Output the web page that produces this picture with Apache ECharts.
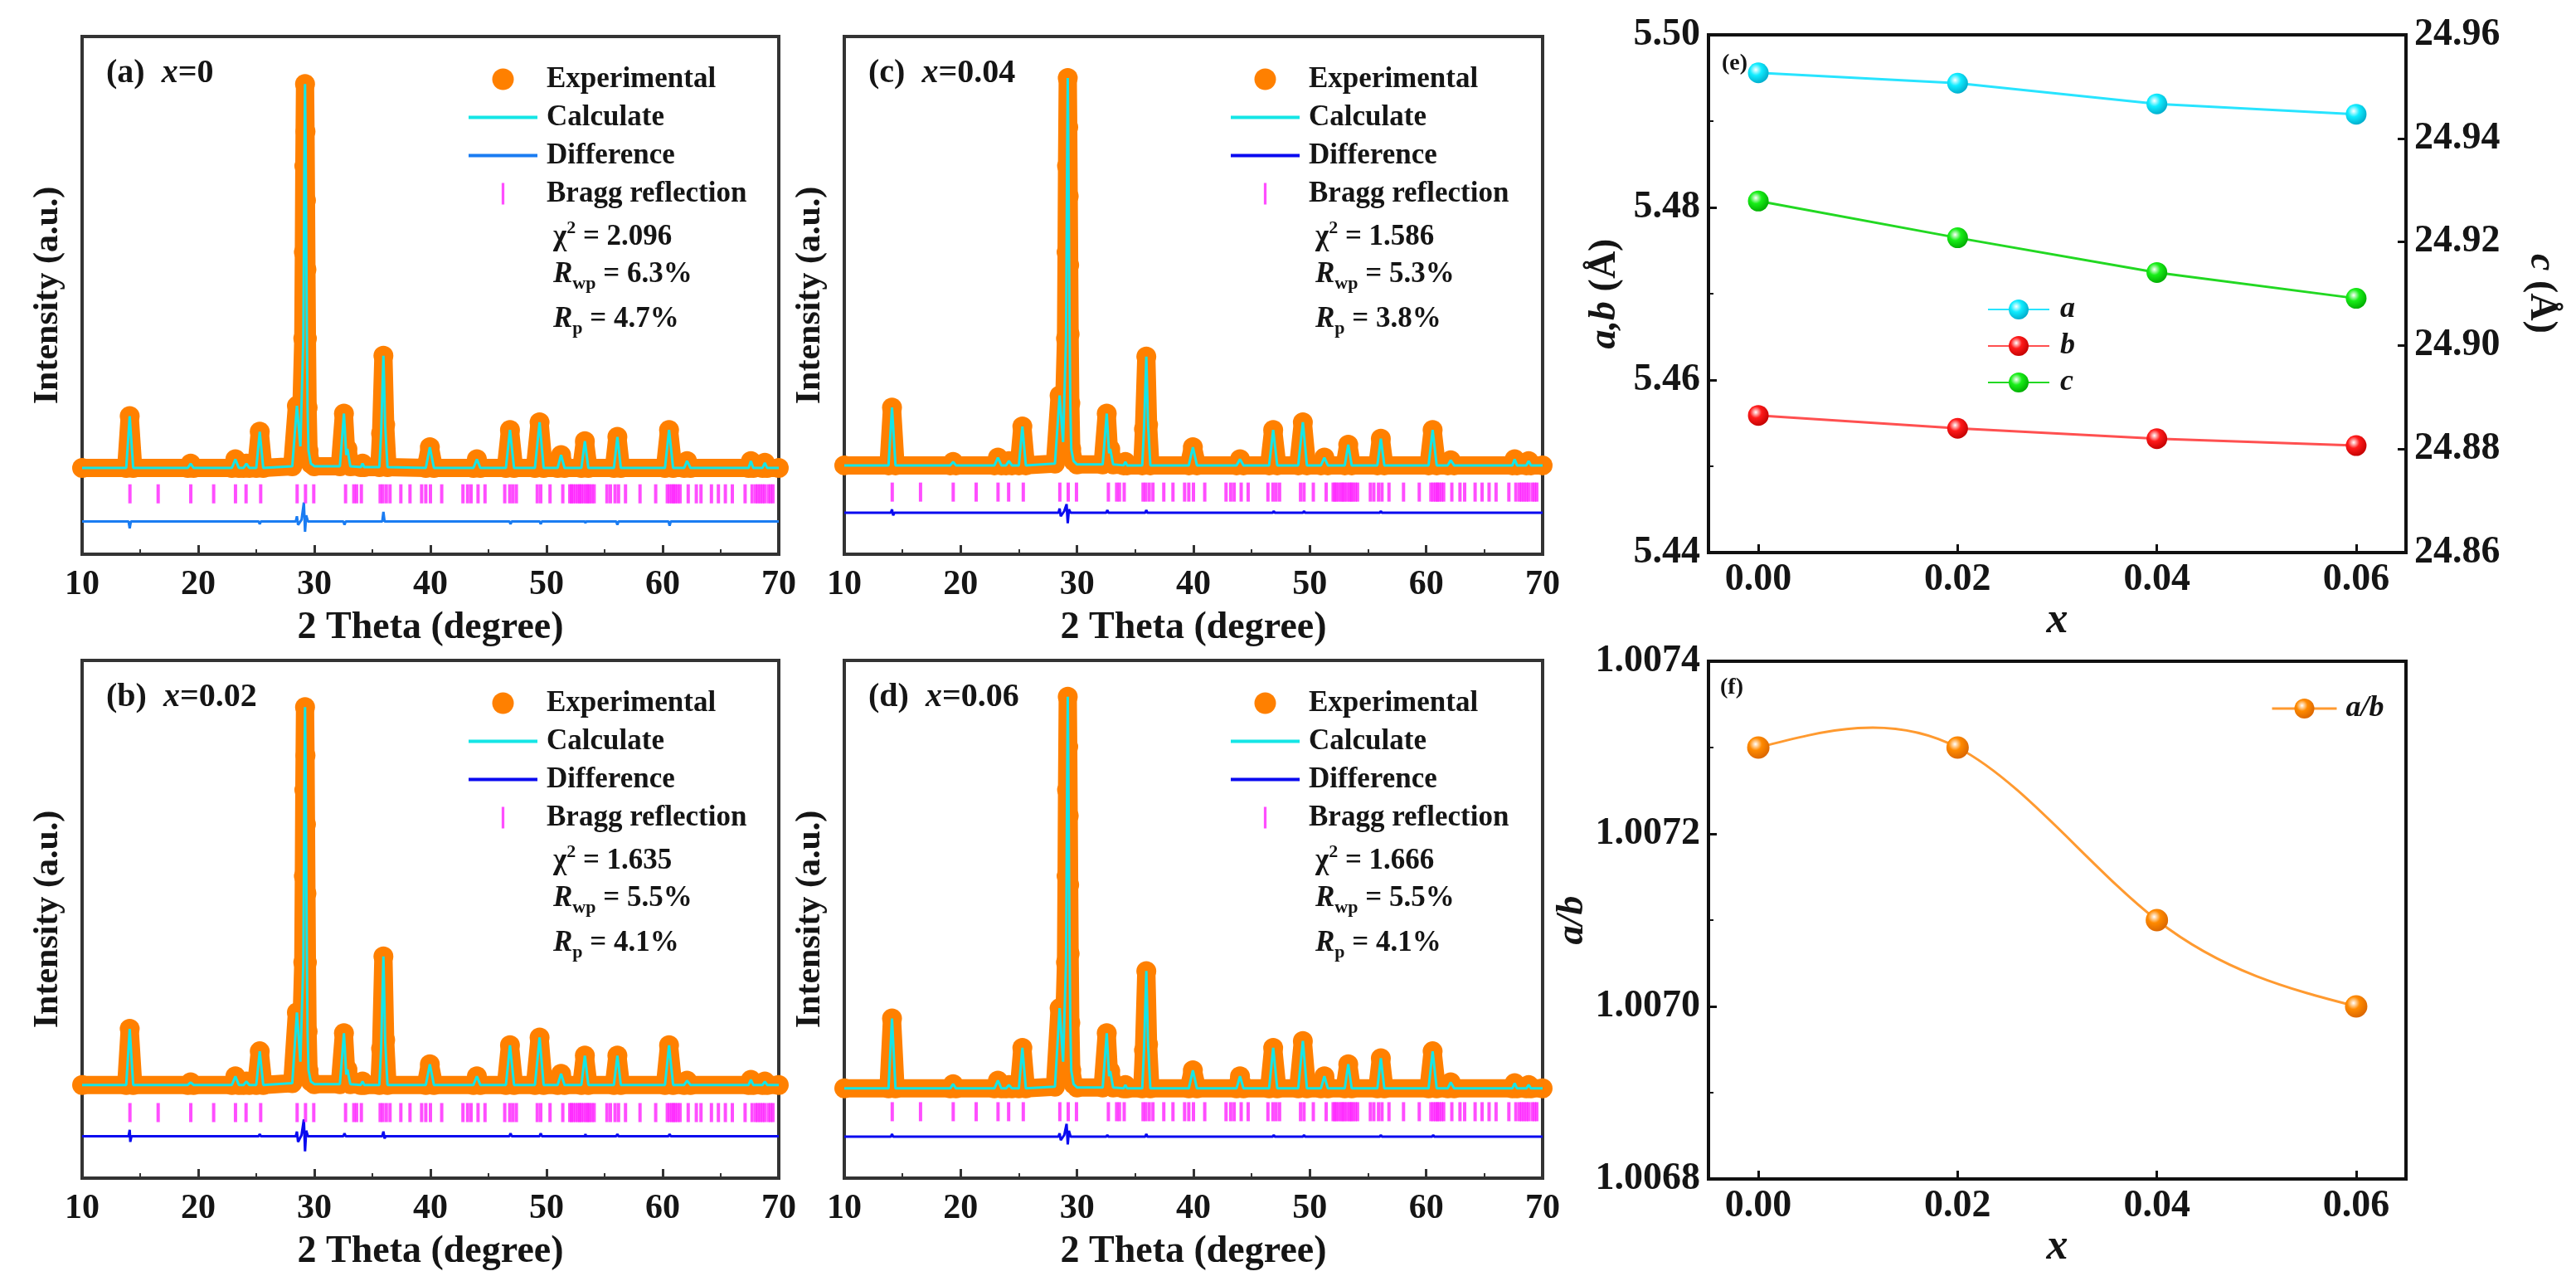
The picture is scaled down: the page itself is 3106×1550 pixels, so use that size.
<!DOCTYPE html>
<html><head><meta charset="utf-8">
<script src="https://cdn.jsdelivr.net/npm/echarts@6/dist/echarts.min.js"></script>
<style>html,body{margin:0;padding:0;background:#fff}#chart{width:3106px;height:1550px}</style>
</head><body><div id="chart"></div>
<script>
// ---------- DATA ----------
// XRD profiles [2theta, intensity] (arbitrary units)
const obsA = [[10,0],[13.8,0],[14.1,60],[14.4,0],[19.1,0],[19.35,5],[19.6,0],[22.9,0],[23.2,10],[23.5,0],[23.9,0],[24.15,5],[24.4,0],[25.0,0],[25.3,42],[25.6,0],[28.1,2],[28.5,72],[28.8,25],[29.05,150],[29.1,250],[29.14,350],[29.2,445],[29.24,390],[29.28,310],[29.32,230],[29.36,150],[29.42,70],[29.5,20],[29.7,5],[30.0,2],[32.2,2],[32.55,63],[32.75,15],[32.85,22],[33.1,2],[34.0,1],[34.15,5],[34.3,1],[35.6,1],[35.75,40],[35.95,130],[36.1,50],[36.3,1],[39.6,0],[39.95,24],[40.3,0],[43.7,0],[44.0,10],[44.3,0],[46.5,0],[46.85,44],[47.2,0],[49.0,0],[49.4,53],[49.75,0],[50.95,0],[51.25,15],[51.55,0],[53.0,0],[53.3,31],[53.6,0],[55.8,0],[56.1,36],[56.4,0],[60.2,0],[60.55,44],[60.9,0],[61.85,0],[62.1,8],[62.4,0],[67.4,0],[67.6,8],[67.8,0],[68.6,0],[68.8,6],[69.0,0],[70,0]];
const obsB = [[10,8],[13.8,8],[14.1,73],[14.4,8],[19.1,8],[19.35,11],[19.6,8],[22.9,8],[23.2,18],[23.5,8],[23.9,8],[24.15,12],[24.4,8],[25.0,8],[25.3,47],[25.6,8],[28.1,10],[28.5,92],[28.8,35],[29.05,150],[29.1,250],[29.14,350],[29.2,446],[29.24,390],[29.28,310],[29.32,230],[29.36,150],[29.42,70],[29.5,25],[29.7,12],[30.0,9],[32.2,9],[32.55,68],[32.75,20],[32.85,26],[33.1,9],[34.0,8],[34.15,12],[34.3,8],[35.6,8],[35.75,50],[35.95,157],[36.1,60],[36.3,8],[39.6,8],[39.95,32],[40.3,8],[43.7,8],[44.0,18],[44.3,8],[46.5,8],[46.85,54],[47.2,8],[49.0,8],[49.4,63],[49.75,8],[50.95,8],[51.25,21],[51.55,8],[53.0,8],[53.3,42],[53.6,8],[55.8,8],[56.1,42],[56.4,8],[60.2,8],[60.55,54],[60.9,8],[61.85,8],[62.1,13],[62.4,8],[67.4,8],[67.6,14],[67.8,8],[68.6,8],[68.8,12],[69.0,8],[70,8]];
const obsC = [[10,3],[13.8,3],[14.1,70],[14.4,3],[19.1,3],[19.35,7],[19.6,3],[22.9,3],[23.2,12],[23.5,3],[23.9,3],[24.15,8],[24.4,3],[25.0,3],[25.3,48],[25.6,3],[28.1,5],[28.5,84],[28.8,30],[29.05,150],[29.1,250],[29.14,350],[29.2,452],[29.24,395],[29.28,315],[29.32,235],[29.36,155],[29.42,75],[29.5,22],[29.7,8],[30.0,4],[32.2,4],[32.55,63],[32.75,17],[32.85,22],[33.1,4],[34.0,3],[34.15,7],[34.3,3],[35.6,3],[35.75,45],[35.95,129],[36.1,50],[36.3,3],[39.6,3],[39.95,24],[40.3,3],[43.7,3],[44.0,10],[44.3,3],[46.5,3],[46.85,44],[47.2,3],[49.0,3],[49.4,53],[49.75,3],[50.95,3],[51.25,12],[51.55,3],[53.0,3],[53.3,27],[53.6,3],[55.8,3],[56.1,34],[56.4,3],[60.2,3],[60.55,44],[60.9,3],[61.85,3],[62.1,9],[62.4,3],[67.4,3],[67.6,10],[67.8,3],[68.6,3],[68.8,8],[69.0,3],[70,3]];
const obsD = [[10,4],[13.8,4],[14.1,85],[14.4,4],[19.1,4],[19.35,9],[19.6,4],[22.9,4],[23.2,13],[23.5,4],[23.9,4],[24.15,8],[24.4,4],[25.0,4],[25.3,51],[25.6,4],[28.1,6],[28.5,97],[28.8,35],[29.05,150],[29.1,250],[29.14,350],[29.2,458],[29.24,400],[29.28,320],[29.32,240],[29.36,160],[29.42,80],[29.5,25],[29.7,9],[30.0,5],[32.2,5],[32.55,68],[32.75,18],[32.85,24],[33.1,5],[34.0,4],[34.15,8],[34.3,4],[35.6,4],[35.75,48],[35.95,140],[36.1,55],[36.3,4],[39.6,4],[39.95,25],[40.3,4],[43.7,4],[44.0,18],[44.3,4],[46.5,4],[46.85,51],[47.2,4],[49.0,4],[49.4,59],[49.75,4],[50.95,4],[51.25,18],[51.55,4],[53.0,4],[53.3,32],[53.6,4],[55.8,4],[56.1,39],[56.4,4],[60.2,4],[60.55,47],[60.9,4],[61.85,4],[62.1,11],[62.4,4],[67.4,4],[67.6,10],[67.8,4],[68.6,4],[68.8,8],[69.0,4],[70,4]];
// calculated profiles coincide with the observed ones at this scale
const calcA = obsA, calcB = obsB, calcC = obsC, calcD = obsD;
// difference curves
const diffA = [[10,-62],[14.0,-62],[14.1,-70],[14.2,-62],[25.2,-62],[25.3,-65],[25.4,-62],[28.4,-62],[28.5,-56],[28.6,-66],[28.9,-60],[29.1,-40],[29.2,-74],[29.3,-55],[29.45,-62],[32.5,-62],[32.6,-66],[32.7,-62],[35.85,-62],[35.95,-51],[36.05,-62],[46.8,-62],[46.9,-65],[47.0,-62],[49.4,-62],[49.5,-65],[49.6,-62],[53.3,-62],[53.35,-64],[53.4,-62],[56.0,-62],[56.1,-66],[56.2,-62],[60.5,-62],[60.6,-67],[60.7,-62],[70,-62]];
const diffB = [[10,-51.5],[14.0,-51.5],[14.1,-44],[14.15,-58],[14.25,-51.5],[25.2,-51.5],[25.3,-49],[25.4,-51.5],[28.4,-51.5],[28.5,-46],[28.6,-58],[28.9,-50],[29.1,-32],[29.2,-69],[29.3,-45],[29.45,-51.5],[32.5,-51.5],[32.6,-48],[32.7,-51.5],[35.85,-51.5],[35.95,-46],[36.05,-54],[36.15,-51.5],[46.8,-51.5],[46.9,-48],[47.0,-51.5],[49.4,-51.5],[49.5,-48],[49.6,-51.5],[53.3,-51.5],[53.35,-49],[53.4,-51.5],[56.0,-51.5],[56.1,-49],[56.2,-51.5],[60.5,-51.5],[60.6,-49],[60.7,-51.5],[70,-51.5]];
const diffC = [[10,-52],[14.0,-52],[14.1,-48],[14.2,-55],[14.3,-52],[28.4,-52],[28.5,-47],[28.6,-56],[28.9,-50],[29.1,-42],[29.2,-64],[29.3,-48],[29.45,-52],[32.5,-52],[32.6,-49],[32.7,-52],[35.85,-52],[35.95,-49],[36.05,-52],[46.8,-52],[46.9,-50],[47.0,-52],[49.4,-52],[49.5,-50],[49.6,-52],[56.0,-52],[56.1,-50],[56.2,-52],[70,-52]];
const diffD = [[10,-52],[14.0,-52],[14.1,-49],[14.2,-52],[28.4,-52],[28.5,-48],[28.6,-56],[28.9,-50],[29.1,-37],[29.2,-61],[29.3,-45],[29.45,-52],[32.5,-52],[32.6,-50],[32.7,-52],[35.85,-52],[35.95,-49],[36.05,-52],[46.8,-52],[46.9,-50],[47.0,-52],[49.4,-52],[49.5,-50],[49.6,-52],[56.0,-52],[56.1,-50],[56.2,-52],[60.5,-52],[60.6,-50],[60.7,-52],[70,-52]];
// Bragg reflection positions (2theta) and tick level per panel
const braggPos = [14.12,16.55,19.36,21.33,23.21,24.12,25.38,28.52,29.24,29.95,32.69,33.4,33.64,34.05,35.67,35.9,36.2,36.52,37.45,38.24,39.24,39.6,40.0,40.97,42.8,43.2,43.5,44.1,44.7,46.4,46.83,47.1,47.4,49.2,49.5,50.3,51.4,52.0,52.15,52.3,52.5,52.7,52.85,53.0,53.2,53.4,53.55,53.7,53.9,54.1,55.2,55.5,55.9,56.2,56.8,58.05,59.4,60.4,60.6,60.8,60.95,61.1,61.3,61.5,62.2,62.9,63.3,64.2,64.8,65.4,66.0,67.1,67.7,68.0,68.2,68.4,68.6,68.8,69.1,69.3,69.5];
const braggLevel = [-30, -24, -28, -23];
// refinement statistics
const panelTags = ['(a)','(b)','(c)','(d)'];
const panelX = ['0','0.02','0.04','0.06'];
const chi2 = ['2.096','1.635','1.586','1.666'];
const rwp = ['6.3%','5.5%','5.3%','5.5%'];
const rp = ['4.7%','4.1%','3.8%','4.1%'];
// lattice parameters
const xVals = [0.00, 0.02, 0.04, 0.06];
const aVals = [5.4956, 5.4944, 5.4920, 5.4908];
const bVals = [5.4559, 5.4544, 5.4532, 5.4524];
const cVals = [24.9279, 24.9208, 24.9141, 24.9091];
const abVals = [1.00730, 1.00730, 1.00710, 1.00700];

// ---------- STYLE / LAYOUT ----------
const FONT = 'Liberation Serif';
const TXT = '#151515';
const FRAME = '#333';
const xrdGrids = [
  {left:99, top:44, width:840, height:624},
  {left:99, top:796, width:840, height:624},
  {left:1018, top:44, width:842, height:624},
  {left:1018, top:796, width:842, height:624}
];
const obs = [obsA, obsB, obsC, obsD];
const calc = [calcA, calcB, calcC, calcD];
const diff = [diffA, diffB, diffC, diffD];
const diffColor = ['#1a7cf2', '#0a0af0', '#0a0af0', '#0a0af0'];
const diffName = ['Difference', 'Difference ', 'Difference ', 'Difference '];
const tickIcon = 'path://M0,0 L3,0 L3,24 L0,24 Z';
const lineIcon = 'path://M0,0 L83,0 L83,4 L0,4 Z';

function sphere(c, dark) {
  return {type:'radial', x:0.38, y:0.35, r:0.7,
    colorStops:[{offset:0,color:'#ffffff'},{offset:0.4,color:c},{offset:1,color:dark}]};
}

// natural cubic spline through (xs, ys), returned as cubic Bezier segments in data space
function splineBeziers(xs, ys) {
  const n = xs.length - 1, h = [], M = new Array(n + 1).fill(0), cp = [], dp = [];
  for (let i = 0; i < n; i++) h[i] = xs[i + 1] - xs[i];
  for (let i = 1; i < n; i++) {
    const a = h[i - 1], b = 2 * (h[i - 1] + h[i]), c = h[i];
    const d = 6 * ((ys[i + 1] - ys[i]) / h[i] - (ys[i] - ys[i - 1]) / h[i - 1]);
    const den = b - (i > 1 ? a * cp[i - 1] : 0);
    cp[i] = c / den;
    dp[i] = (d - (i > 1 ? a * dp[i - 1] : 0)) / den;
  }
  for (let i = n - 1; i >= 1; i--) M[i] = dp[i] - cp[i] * M[i + 1];
  const m = [];
  for (let i = 0; i < n; i++) m[i] = (ys[i + 1] - ys[i]) / h[i] - h[i] * (2 * M[i] + M[i + 1]) / 6;
  m[n] = (ys[n] - ys[n - 1]) / h[n - 1] + h[n - 1] * (M[n - 1] + 2 * M[n]) / 6;
  const segs = [];
  for (let i = 0; i < n; i++) {
    segs.push([[xs[i] + h[i] / 3, ys[i] + m[i] * h[i] / 3],
               [xs[i + 1] - h[i] / 3, ys[i + 1] - m[i + 1] * h[i] / 3],
               [xs[i + 1], ys[i + 1]]]);
  }
  return segs;
}

const grid = [], xAxis = [], yAxis = [], series = [], legend = [], graphic = [];

xrdGrids.forEach((g, i) => {
  grid.push(Object.assign({show:true, borderColor:FRAME, borderWidth:4, backgroundColor:'transparent'}, g));
  xAxis.push({
    type:'value', gridIndex:i, min:10, max:70, interval:10,
    axisLine:{show:true, onZero:false, lineStyle:{color:FRAME, width:4}},
    axisTick:{inside:true, length:11, lineStyle:{color:FRAME, width:3}},
    minorTick:{show:true, splitNumber:2, length:6, lineStyle:{color:FRAME, width:2}},
    splitLine:{show:false},
    axisLabel:{fontFamily:FONT, fontWeight:'bold', fontSize:42, color:TXT, margin:16, showMinLabel:true, showMaxLabel:true},
    name:'2 Theta (degree)', nameLocation:'middle', nameGap:66,
    nameTextStyle:{fontFamily:FONT, fontWeight:'bold', fontSize:46, color:TXT}
  });
  yAxis.push({
    type:'value', gridIndex:i, min:-100, max:500,
    axisLine:{show:true, onZero:false, lineStyle:{color:FRAME, width:4}},
    axisTick:{show:false}, axisLabel:{show:false}, splitLine:{show:false},
    name:'Intensity (a.u.)', nameLocation:'middle', nameGap:20,
    nameTextStyle:{fontFamily:FONT, fontWeight:'bold', fontSize:42, color:TXT}
  });
  series.push({
    name:'Experimental', type:'line', xAxisIndex:i, yAxisIndex:i, data:obs[i],
    symbol:'circle', symbolSize:24, z:2,
    itemStyle:{color:'#ff8000'},
    lineStyle:{color:'#ff8000', width:22, cap:'round', join:'round'}
  });
  series.push({
    name:'Calculate', type:'line', xAxisIndex:i, yAxisIndex:i, data:calc[i],
    symbol:'none', z:3, itemStyle:{color:'#14e6e6'},
    lineStyle:{color:'#14e6e6', width:3}
  });
  series.push({
    name:diffName[i], type:'line', xAxisIndex:i, yAxisIndex:i, data:diff[i],
    symbol:'none', z:3, itemStyle:{color:diffColor[i]},
    lineStyle:{color:diffColor[i], width:3}
  });
  series.push({
    name:'Bragg reflection', type:'scatter', xAxisIndex:i, yAxisIndex:i,
    data:braggPos.map(p => [p, braggLevel[i]]),
    symbol:'rect', symbolSize:[4, 23], z:3, itemStyle:{color:'#ff22ff'}
  });
  legend.push({
    orient:'vertical', left:g.left + 466, top:g.top + 34, padding:0,
    itemWidth:83, itemHeight:26, itemGap:11,
    data:[{name:'Experimental', icon:'circle'}, {name:'Calculate', icon:lineIcon},
          {name:diffName[i], icon:lineIcon}, {name:'Bragg reflection', icon:tickIcon}],
    textStyle:{fontFamily:FONT, fontWeight:'bold', fontSize:35, lineHeight:35, color:TXT, padding:[0,0,0,6]}
  });
  const rich = {
    n:{fontFamily:FONT, fontWeight:'bold', fontSize:35, lineHeight:44, fill:TXT},
    i:{fontFamily:FONT, fontWeight:'bold', fontStyle:'italic', fontSize:35, lineHeight:44, fill:TXT},
    sup:{fontFamily:FONT, fontWeight:'bold', fontSize:22, lineHeight:22, verticalAlign:'top', fill:TXT},
    sub:{fontFamily:FONT, fontWeight:'bold', fontSize:22, lineHeight:22, verticalAlign:'bottom', fill:TXT},
    L:{fontFamily:FONT, fontWeight:'bold', fontSize:40, lineHeight:46, fill:TXT},
    Li:{fontFamily:FONT, fontWeight:'bold', fontStyle:'italic', fontSize:40, lineHeight:46, fill:TXT}
  };
  const tx = (x, y, text) => ({type:'text', x:x, y:y, z:10,
    style:{text:text, rich:rich, verticalAlign:'middle', align:'left', fill:TXT, font:'bold 35px ' + FONT}});
  graphic.push(tx(g.left + 29, g.top + 45, '{L|' + panelTags[i] + '  }{Li|x}{L|=' + panelX[i] + '}'));
  graphic.push(tx(g.left + 568, g.top + 242, '{n|χ}{sup|2}{n| = ' + chi2[i] + '}'));
  graphic.push(tx(g.left + 568, g.top + 287, '{i|R}{sub|wp}{n| = ' + rwp[i] + '}'));
  graphic.push(tx(g.left + 568, g.top + 341, '{i|R}{sub|p}{n| = ' + rp[i] + '}'));
});

// ----- panel (e) and (f) -----
const axisFont = {fontFamily:FONT, fontWeight:'bold', fontSize:46, color:TXT};
const nameFont = {fontFamily:FONT, fontWeight:'bold', fontSize:46, color:TXT,
  rich:{i:{fontFamily:FONT, fontWeight:'bold', fontStyle:'italic', fontSize:46, color:TXT}}};
const eGrid = {left:2060, top:42, width:841, height:624};
const fGrid = {left:2060, top:797, width:841, height:624};
[eGrid, fGrid].forEach(g => grid.push(Object.assign({show:true, borderColor:'#111', borderWidth:4, backgroundColor:'transparent'}, g)));

[4, 5].forEach(gi => xAxis.push({
  type:'value', gridIndex:gi, min:-0.005, max:0.065,
  axisLine:{show:true, onZero:false, lineStyle:{color:'#111', width:4}},
  axisTick:{inside:true, length:10, customValues:xVals, lineStyle:{color:'#111', width:3}},
  axisLabel:Object.assign({customValues:xVals, margin:10, formatter:v => v.toFixed(2)}, axisFont),
  splitLine:{show:false},
  name:'x', nameLocation:'middle', nameGap:48,
  nameTextStyle:{fontFamily:FONT, fontWeight:'bold', fontStyle:'italic', fontSize:52, color:TXT}
}));

yAxis.push({ // e left (index 4)
  type:'value', gridIndex:4, min:5.44, max:5.50, interval:0.02,
  axisLine:{show:true, onZero:false, lineStyle:{color:'#111', width:4}},
  axisTick:{inside:true, length:10, lineStyle:{color:'#111', width:3}},
  minorTick:{show:true, splitNumber:2, length:6, lineStyle:{color:'#111', width:2}},
  splitLine:{show:false},
  axisLabel:Object.assign({margin:10, formatter:v => v.toFixed(2), showMinLabel:true, showMaxLabel:true}, axisFont),
  name:'{i|a,b} (Å)', nameLocation:'middle', nameGap:102, nameTextStyle:nameFont
});
yAxis.push({ // e right (index 5)
  type:'value', gridIndex:4, position:'right', min:24.86, max:24.96, interval:0.02,
  axisLine:{show:true, onZero:false, lineStyle:{color:'#111', width:4}},
  axisTick:{inside:true, length:10, lineStyle:{color:'#111', width:3}},
  splitLine:{show:false},
  axisLabel:Object.assign({margin:10, formatter:v => v.toFixed(2), showMinLabel:true, showMaxLabel:true}, axisFont),
  name:'{i|c} (Å)', nameLocation:'middle', nameGap:140, nameRotate:-90, nameTextStyle:nameFont
});
yAxis.push({ // f (index 6)
  type:'value', gridIndex:5, min:1.0068, max:1.0074, interval:0.0002,
  axisLine:{show:true, onZero:false, lineStyle:{color:'#111', width:4}},
  axisTick:{inside:true, length:10, lineStyle:{color:'#111', width:3}},
  minorTick:{show:true, splitNumber:2, length:6, lineStyle:{color:'#111', width:2}},
  splitLine:{show:false},
  axisLabel:Object.assign({margin:10, formatter:v => v.toFixed(4), showMinLabel:true, showMaxLabel:true}, axisFont),
  name:'{i|a/b}', nameLocation:'middle', nameGap:134, nameTextStyle:nameFont
});

const pts = vals => xVals.map((x, k) => [x, vals[k]]);
series.push({name:'a', type:'line', xAxisIndex:4, yAxisIndex:4, data:pts(aVals), symbol:'circle', symbolSize:25,
  itemStyle:{color:sphere('#10ecff','#00a8c8')}, lineStyle:{color:'#28e4ff', width:3}, z:3});
series.push({name:'b', type:'line', xAxisIndex:4, yAxisIndex:4, data:pts(bVals), symbol:'circle', symbolSize:25,
  itemStyle:{color:sphere('#ff1a1a','#c00000')}, lineStyle:{color:'#ff5050', width:3}, z:3});
series.push({name:'c', type:'line', xAxisIndex:4, yAxisIndex:5, data:pts(cVals), symbol:'circle', symbolSize:25,
  itemStyle:{color:sphere('#18ee18','#00a800')}, lineStyle:{color:'#22d822', width:3}, z:3});
// a/b markers (line drawn by the spline series below)
series.push({name:'a/b', type:'line', xAxisIndex:5, yAxisIndex:6, data:pts(abVals), symbol:'circle', symbolSize:27,
  itemStyle:{color:sphere('#ff8a00','#d86400')}, lineStyle:{color:'#ff9a30', width:0}, z:4});
const abSegs = splineBeziers(xVals, abVals);
series.push({name:'a/b spline', type:'custom', coordinateSystem:'cartesian2d', xAxisIndex:5, yAxisIndex:6,
  data:pts(abVals), encode:{x:0, y:1}, z:3, silent:true,
  renderItem:(params, api) => {
    if (params.dataIndex !== 0) return null;
    const p0 = api.coord([xVals[0], abVals[0]]);
    let d = 'M' + p0[0] + ',' + p0[1];
    abSegs.forEach(s => {
      const c1 = api.coord(s[0]), c2 = api.coord(s[1]), e = api.coord(s[2]);
      d += ' C' + c1[0] + ',' + c1[1] + ' ' + c2[0] + ',' + c2[1] + ' ' + e[0] + ',' + e[1];
    });
    return {type:'path', shape:{pathData:d}, style:{stroke:'#ff9a30', lineWidth:3, fill:'none'}};
  }
});

legend.push({orient:'vertical', left:2391, top:350, itemWidth:74, itemHeight:30, itemGap:8, data:['a','b','c'],
  textStyle:{fontFamily:FONT, fontWeight:'bold', fontStyle:'italic', fontSize:36, lineHeight:36, color:TXT, padding:[0,0,0,8]}});
legend.push({orient:'vertical', left:2733, top:831, itemWidth:78, itemHeight:30, data:['a/b'],
  lineStyle:{color:'#ff9a30', width:3, opacity:1},
  textStyle:{fontFamily:FONT, fontWeight:'bold', fontStyle:'italic', fontSize:36, lineHeight:36, color:TXT, padding:[0,0,0,6]}});

graphic.push({type:'text', x:2076, y:77, style:{text:'(e)', font:'bold 28px ' + FONT, fill:TXT, verticalAlign:'middle'}});
graphic.push({type:'text', x:2074, y:829, style:{text:'(f)', font:'bold 28px ' + FONT, fill:TXT, verticalAlign:'middle'}});

const chart = echarts.init(document.getElementById('chart'), null, {renderer:'canvas'});
chart.setOption({
  backgroundColor:'#ffffff',
  animation:false,
  textStyle:{fontFamily:FONT},
  grid:grid, xAxis:xAxis, yAxis:yAxis, series:series, legend:legend, graphic:graphic
});
</script></body></html>
